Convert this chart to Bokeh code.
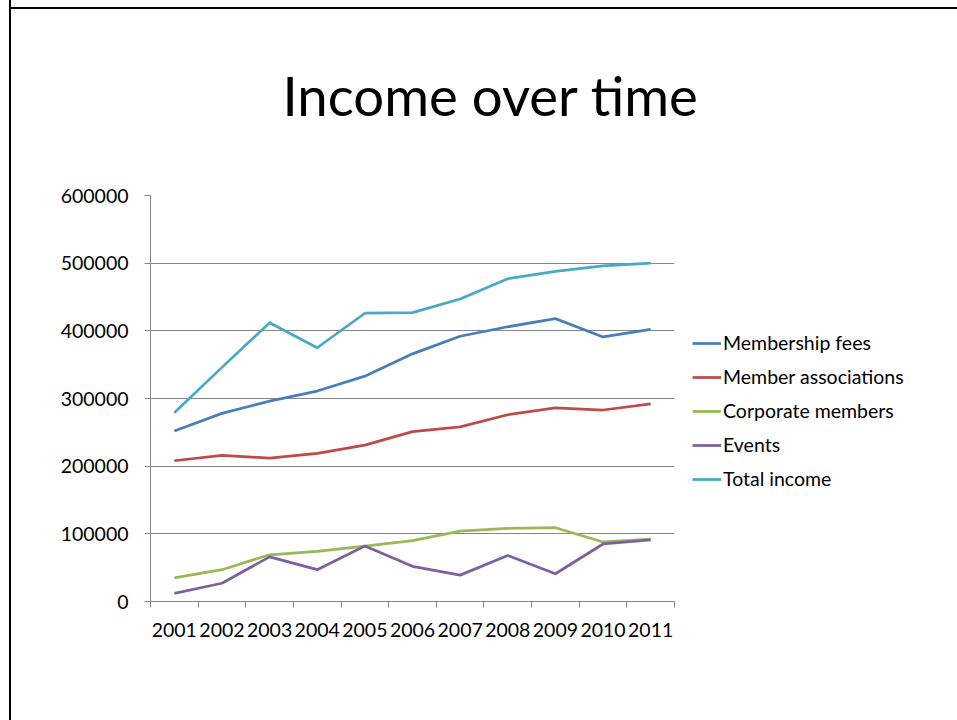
from bokeh.plotting import figure
from bokeh.models import (Range1d, FixedTicker, SingleIntervalTicker, BasicTickFormatter,
                          Legend, LegendItem, Title)
from bokeh.embed import file_html
from bokeh.resources import INLINE

# ---- data ----
years = [2001, 2002, 2003, 2004, 2005, 2006, 2007, 2008, 2009, 2010, 2011]
membership_fees = [252000, 278000, 296000, 311000, 333000, 366000, 392000, 406000, 418000, 391000, 402000]
member_associations = [208000, 216000, 212000, 219000, 231000, 251000, 258000, 276000, 286000, 283000, 292000]
corporate_members = [35000, 47000, 69000, 74000, 82000, 90000, 104000, 108000, 109000, 88000, 92000]
events = [12000, 27000, 66000, 47000, 82000, 52000, 39000, 68000, 41000, 85000, 91000]
total_income = [279000, 346000, 412000, 375000, 426000, 427000, 447000, 477000, 488000, 496000, 500000]

series_names = ["Membership fees", "Member associations", "Corporate members", "Events", "Total income"]
series_values = [membership_fees, member_associations, corporate_members, events, total_income]
series_colors = ["#4A7EBB", "#BE4B48", "#98B954", "#7D60A0", "#46AAC5"]

title_text = "Income over time"
y_max = 600000
y_step = 100000

FONT = "Lato"
GRID = "#868686"

p = figure(frame_width=524, frame_height=406,
           min_border_left=139, min_border_right=281,
           min_border_top=202, min_border_bottom=119,
           output_backend="svg", toolbar_location=None,
           x_range=Range1d(years[0] - 0.5, years[-1] + 0.5),
           y_range=Range1d(0, y_max))
# slide frame: left edge as a CSS border, top edge as a 2px background stripe
p.styles = {"border-left": "2px solid black",
            "margin-left": "9px", "margin-top": "-7px",
            "background-image": "linear-gradient(black, black)",
            "background-size": "100% 2px",
            "background-position": "0 14px",
            "background-repeat": "no-repeat"}
p.outline_line_color = None
p.background_fill_color = "white"
p.border_fill_color = None

# x axis: labels centred on categories, tick marks between them
xa = p.xaxis[0]
xa.ticker = FixedTicker(ticks=years, minor_ticks=[y - 0.5 for y in years] + [years[-1] + 0.5])
xa.formatter = BasicTickFormatter(use_scientific=False)
xa.major_tick_in = 0
xa.major_tick_out = 0
xa.minor_tick_in = 0
xa.minor_tick_out = 6
xa.minor_tick_line_color = GRID
xa.axis_line_color = GRID
xa.major_label_text_font = FONT
xa.major_label_text_font_size = "19.5px"
xa.major_label_text_color = "black"
xa.major_label_standoff = 15

ya = p.yaxis[0]
ya.ticker = SingleIntervalTicker(interval=y_step, num_minor_ticks=0)
ya.formatter = BasicTickFormatter(use_scientific=False)
ya.major_tick_in = 0
ya.major_tick_out = 6
ya.minor_tick_line_color = None
ya.major_tick_line_color = GRID
ya.axis_line_color = GRID
ya.major_label_text_font = FONT
ya.major_label_text_font_size = "19.5px"
ya.major_label_text_color = "black"
ya.major_label_standoff = 16

p.xgrid.grid_line_color = None
p.ygrid.grid_line_color = GRID
p.ygrid.grid_line_width = 1
p.ygrid.ticker = SingleIntervalTicker(interval=y_step, num_minor_ticks=0)

items = []
for name, vals, col in zip(series_names, series_values, series_colors):
    r = p.line(years, vals, line_color=col, line_width=2.75, line_join="round")
    items.append(LegendItem(label=name, renderers=[r]))

legend = Legend(items=items, location=(18, 111), padding=0, margin=0,
                border_line_color=None, background_fill_alpha=0,
                glyph_width=29, glyph_height=20, label_height=20,
                label_standoff=2, spacing=11,
                label_text_font=FONT, label_text_font_size="19.5px",
                label_text_color="black")
p.add_layout(legend, "right")

p.title = Title(text=title_text, align="left", offset=132, vertical_align="middle", standoff=134,
                text_font=FONT, text_font_size="54.5px", text_font_style="normal",
                text_color="black")

open("out.html", "w").write(file_html(p, INLINE))
